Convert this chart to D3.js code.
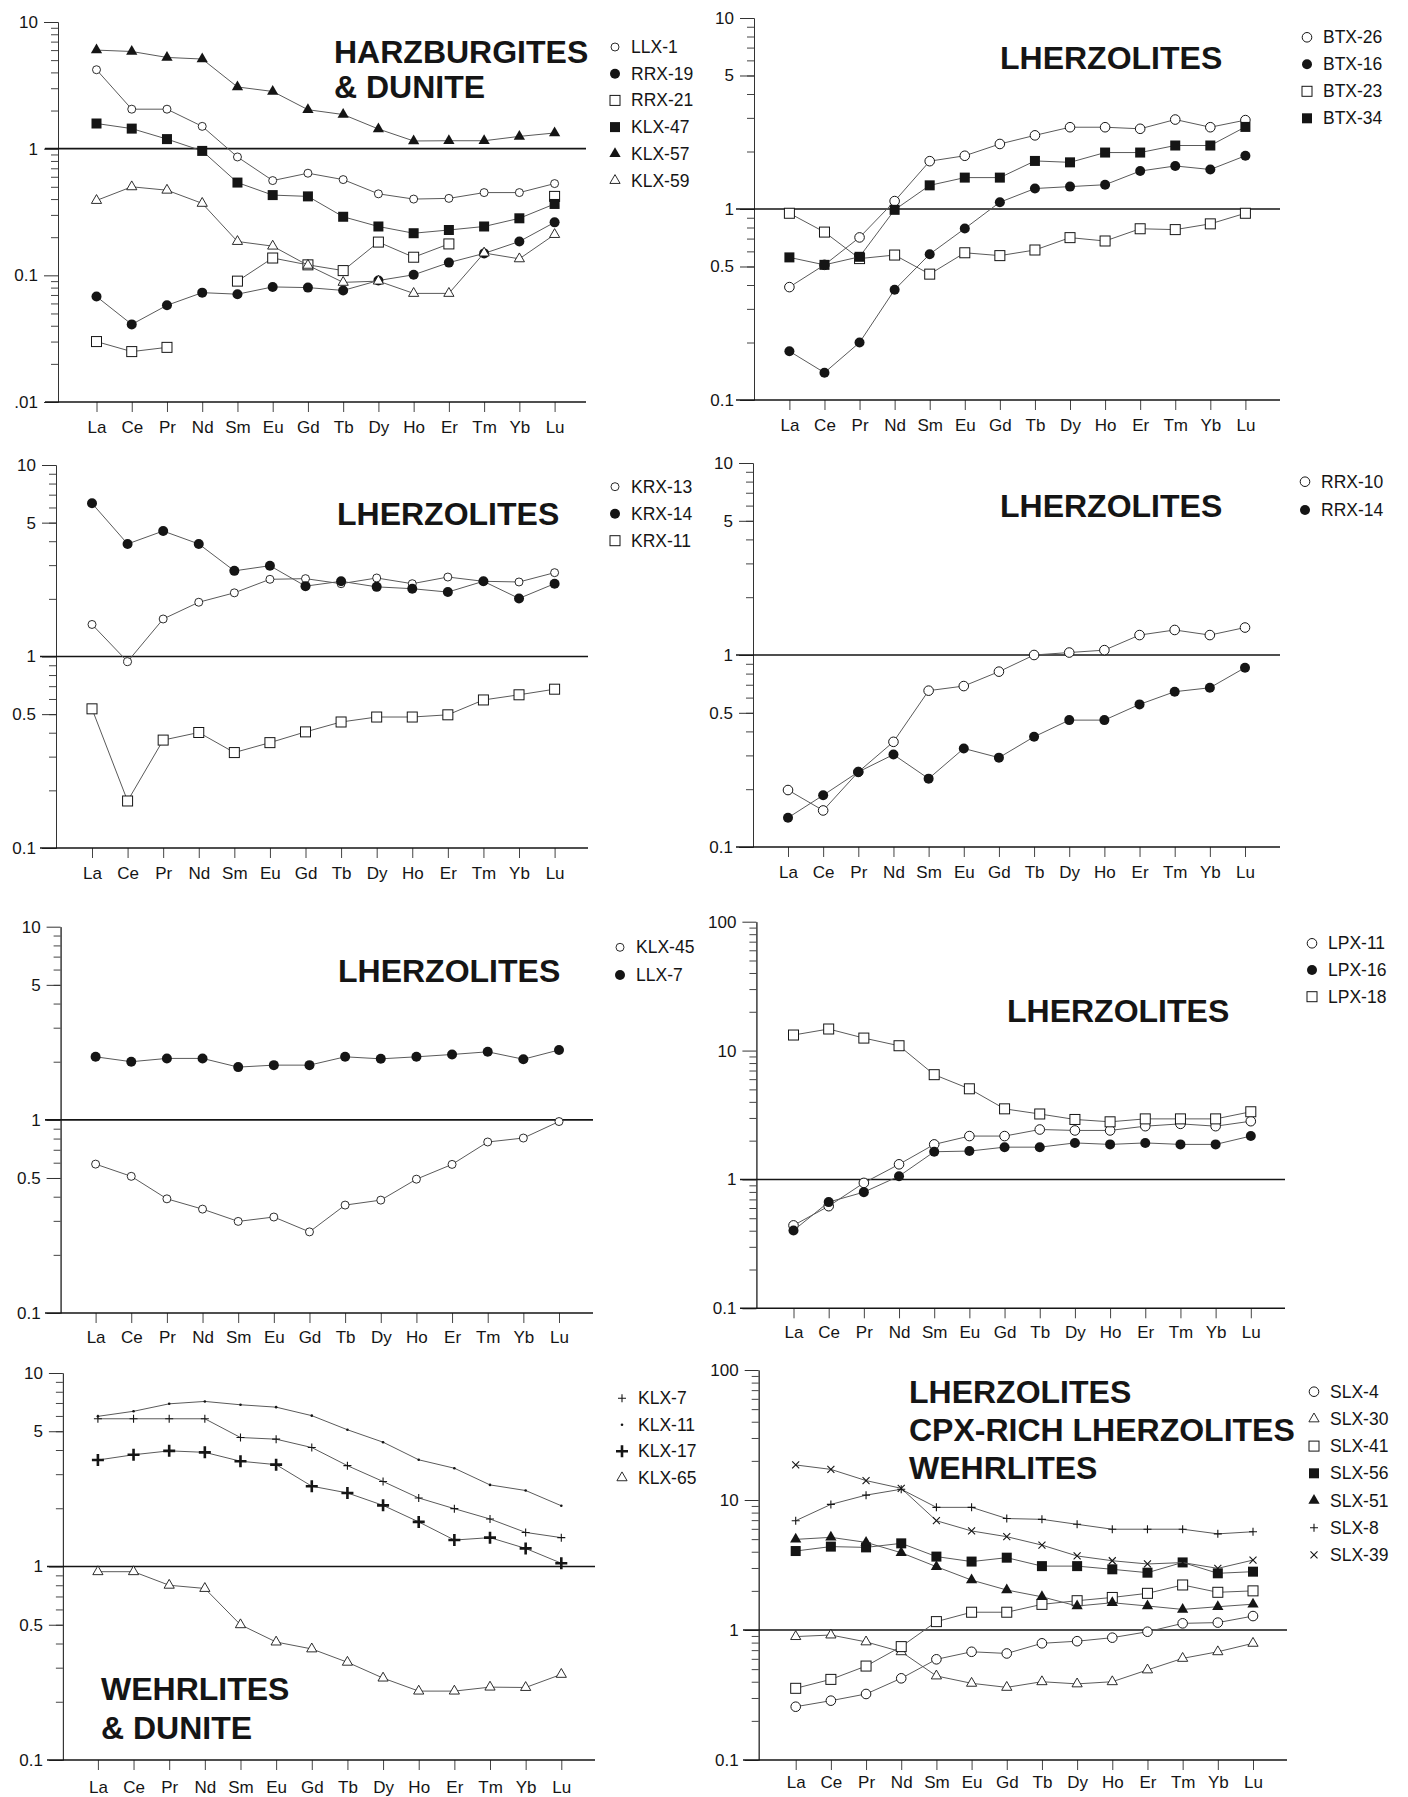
<!DOCTYPE html>
<html>
<head>
<meta charset="utf-8">
<script src="https://cdn.jsdelivr.net/npm/d3@7"></script>
<style>
body{margin:0;background:#fff}
svg{display:block;font-family:"Liberation Sans",Arial,sans-serif}
</style>
</head>
<body>
<div class="fig"></div>
<script>
// rare earth elements along the x axis
const ree = ["La","Ce","Pr","Nd","Sm","Eu","Gd","Tb","Dy","Ho","Er","Tm","Yb","Lu"]

// y tick labels
const ticksHarz = [10,1,0.1,0.01]
const ticksHarzText = ["10","1","0.1",".01"]
const ticksTen = [10,5,1,0.5,0.1]
const ticksTenText = ["10","5","1","0.5","0.1"]
const ticksHundred = [100,10,1,0.1]
const ticksHundredText = ["100","10","1","0.1"]

// harzburgites & dunite
const llx1  = [4.2,2.05,2.05,1.5,0.86,0.56,0.64,0.57,0.44,0.40,0.405,0.45,0.45,0.53]
const rrx19 = [0.068,0.041,0.058,0.073,0.071,0.081,0.080,0.076,0.091,0.101,0.126,0.149,0.185,0.262]
const rrx21 = [0.030,0.025,0.027,null,0.090,0.137,0.121,0.109,0.183,0.139,0.177,null,null,0.42]
const klx47 = [1.58,1.44,1.19,0.96,0.54,0.43,0.42,0.29,0.243,0.215,0.228,0.243,0.282,0.366]
const klx57 = [6.0,5.85,5.25,5.1,3.07,2.83,2.03,1.86,1.43,1.15,1.155,1.155,1.25,1.33]
const klx59 = [0.39,0.50,0.47,0.37,0.185,0.17,0.12,0.088,0.09,0.072,0.072,0.15,0.135,0.21]

// lherzolites BTX
const btx26 = [0.39,0.51,0.71,1.10,1.78,1.90,2.19,2.43,2.68,2.68,2.63,2.94,2.68,2.92]
const btx16 = [0.18,0.139,0.20,0.378,0.58,0.79,1.085,1.28,1.31,1.34,1.58,1.68,1.61,1.90]
const btx23 = [0.95,0.757,0.55,0.574,0.456,0.59,0.57,0.61,0.708,0.68,0.788,0.78,0.836,0.95]
const btx34 = [0.558,0.51,0.562,0.99,1.33,1.46,1.46,1.785,1.755,1.975,1.975,2.15,2.15,2.69]

// lherzolites KRX
const krx13 = [1.47,0.94,1.57,1.92,2.15,2.53,2.55,2.40,2.57,2.40,2.60,2.47,2.45,2.74]
const krx14 = [6.31,3.87,4.52,3.87,2.80,2.98,2.33,2.47,2.31,2.26,2.17,2.47,2.01,2.40]
const krx11 = [0.533,0.176,0.366,0.401,0.315,0.355,0.404,0.455,0.483,0.483,0.496,0.593,0.631,0.675]

// lherzolites RRX
const rrx10 = [0.198,0.155,0.246,0.353,0.652,0.689,0.819,1.0,1.03,1.06,1.27,1.35,1.27,1.39]
const rrx14 = [0.142,0.186,0.246,0.303,0.227,0.326,0.292,0.375,0.458,0.458,0.553,0.644,0.675,0.859]

// lherzolites KLX/LLX
const klx45 = [0.59,0.51,0.39,0.345,0.298,0.314,0.263,0.362,0.384,0.493,0.588,0.768,0.805,0.98]
const llx7  = [2.12,2.0,2.08,2.08,1.875,1.92,1.92,2.12,2.07,2.12,2.18,2.25,2.06,2.3]

// lherzolites LPX
const lpx11 = [0.44,0.62,0.94,1.31,1.87,2.17,2.17,2.44,2.40,2.40,2.59,2.70,2.59,2.83]
const lpx16 = [0.402,0.667,0.797,1.06,1.64,1.66,1.78,1.78,1.92,1.87,1.92,1.87,1.87,2.17]
const lpx18 = [13.2,14.7,12.5,10.9,6.5,5.05,3.53,3.22,2.92,2.80,2.95,2.95,2.95,3.35]

// wehrlites & dunite
const klx7  = [5.8,5.8,5.8,5.8,4.64,4.55,4.12,3.32,2.75,2.26,1.99,1.76,1.50,1.41]
const klx11 = [5.97,6.34,6.93,7.13,6.85,6.66,6.02,5.09,4.39,3.56,3.22,2.64,2.47,2.06]
const klx17 = [3.55,3.78,3.96,3.89,3.50,3.36,2.60,2.40,2.07,1.70,1.37,1.41,1.24,1.04]
const klx65 = [0.94,0.94,0.80,0.77,0.50,0.407,0.375,0.32,0.265,0.227,0.227,0.238,0.237,0.277]

// SLX lherzolites / cpx-rich lherzolites / wehrlites
const slx4  = [0.257,0.286,0.322,0.425,0.595,0.68,0.66,0.79,0.82,0.873,0.97,1.125,1.14,1.28]
const slx30 = [0.89,0.915,0.81,0.68,0.443,0.389,0.362,0.40,0.385,0.40,0.493,0.605,0.68,0.79]
const slx41 = [0.356,0.417,0.528,0.745,1.16,1.37,1.37,1.575,1.68,1.78,1.915,2.22,1.95,2.0]
const slx56 = [4.05,4.38,4.32,4.64,3.67,3.36,3.6,3.1,3.1,2.93,2.76,3.31,2.73,2.81]
const slx51 = [4.98,5.16,4.72,3.93,3.07,2.42,2.03,1.8,1.53,1.62,1.53,1.44,1.51,1.58]
const slx8  = [6.93,9.25,10.9,12.1,8.78,8.78,7.2,7.1,6.5,5.96,5.96,5.96,5.49,5.7]
const slx39 = [18.6,17.2,14.1,12.3,6.93,5.78,5.22,4.5,3.71,3.41,3.22,3.3,2.98,3.45]

const svg = d3.select(".fig").append("svg").attr("width",1408).attr("height",1797)
const ink = "#151515"

const panels = [
  {ax:58, top:22, bot:402, dom:[0.01,10], ticks:ticksHarz, tickText:ticksHarzText, x0:96.5, x1:554.6, lx0:45, lx1:586, labY:427,
   title:["HARZBURGITES","& DUNITE"], tx:334, ty:51, tdy:35, legX:615, legY:47, legDy:26.7,
   series:[["LLX-1",llx1,"circleOpenSmall"],["RRX-19",rrx19,"circleFilled"],["RRX-21",rrx21,"squareOpen"],
           ["KLX-47",klx47,"squareFilled"],["KLX-57",klx57,"triFilled"],["KLX-59",klx59,"triOpen"]]},
  {ax:754, top:18, bot:400, dom:[0.1,10], ticks:ticksTen, tickText:ticksTenText, x0:789.4, x1:1245.4, lx0:736, lx1:1280, labY:425,
   title:["LHERZOLITES"], tx:1000, ty:57, tdy:0, legX:1307, legY:37.3, legDy:27,
   series:[["BTX-26",btx26,"circleOpen"],["BTX-16",btx16,"circleFilled"],["BTX-23",btx23,"squareOpen"],["BTX-34",btx34,"squareFilled"]]},
  {ax:56, top:465, bot:848, dom:[0.1,10], ticks:ticksTen, tickText:ticksTenText, x0:92, x1:554.6, lx0:40, lx1:588, labY:873,
   title:["LHERZOLITES"], tx:337, ty:513, tdy:0, legX:615, legY:486.7, legDy:27,
   series:[["KRX-13",krx13,"circleOpenSmall"],["KRX-14",krx14,"circleFilled"],["KRX-11",krx11,"squareOpen"]]},
  {ax:753, top:463, bot:847, dom:[0.1,10], ticks:ticksTen, tickText:ticksTenText, x0:788, x1:1245, lx0:736, lx1:1280, labY:872,
   title:["LHERZOLITES"], tx:1000, ty:505, tdy:0, legX:1305, legY:481.7, legDy:28.3,
   series:[["RRX-10",rrx10,"circleOpen"],["RRX-14",rrx14,"circleFilled"]]},
  {ax:60.6, top:926.7, bot:1313, dom:[0.1,10], ticks:ticksTen, tickText:ticksTenText, x0:95.6, x1:559, lx0:45, lx1:593, labY:1337,
   title:["LHERZOLITES"], tx:338, ty:970, tdy:0, legX:620, legY:947.3, legDy:27.7,
   series:[["KLX-45",klx45,"circleOpenSmall"],["LLX-7",llx7,"circleFilled"]]},
  {ax:756.4, top:921.7, bot:1308.3, dom:[0.1,100], ticks:ticksHundred, tickText:ticksHundredText, x0:793.5, x1:1250.8, lx0:740, lx1:1285, labY:1332,
   title:["LHERZOLITES"], tx:1007, ty:1010, tdy:0, legX:1312, legY:943.3, legDy:26.7,
   series:[["LPX-11",lpx11,"circleOpen"],["LPX-16",lpx16,"circleFilled"],["LPX-18",lpx18,"squareOpen"]]},
  {ax:62.9, top:1373, bot:1760, dom:[0.1,10], ticks:ticksTen, tickText:ticksTenText, x0:97.9, x1:561.3, lx0:47, lx1:595, labY:1787,
   title:["WEHRLITES","& DUNITE"], tx:101, ty:1688, tdy:39, legX:622, legY:1398.3, legDy:26.5,
   series:[["KLX-7",klx7,"plus"],["KLX-11",klx11,"dot"],["KLX-17",klx17,"plusBold"],["KLX-65",klx65,"triOpen"]]},
  {ax:758.7, top:1370, bot:1760, dom:[0.1,100], ticks:ticksHundred, tickText:ticksHundredText, x0:795.7, x1:1253, lx0:743, lx1:1287, labY:1782,
   title:["LHERZOLITES","CPX-RICH LHERZOLITES","WEHRLITES"], tx:909, ty:1391, tdy:38, legX:1314, legY:1391.7, legDy:27.2,
   series:[["SLX-4",slx4,"circleOpen"],["SLX-30",slx30,"triOpen"],["SLX-41",slx41,"squareOpen"],["SLX-56",slx56,"squareFilled"],
           ["SLX-51",slx51,"triFilled"],["SLX-8",slx8,"plus"],["SLX-39",slx39,"cross"]]}
]

// one marker of a given kind at (cx,cy)
function marker(g, kind, cx, cy) {
  if (kind == "circleOpen") return g.append("circle").attr("cx",cx).attr("cy",cy).attr("r",4.8).attr("fill","#fff").attr("stroke",ink).attr("stroke-width",1)
  if (kind == "circleOpenSmall") return g.append("circle").attr("cx",cx).attr("cy",cy).attr("r",4).attr("fill","#fff").attr("stroke",ink).attr("stroke-width",0.9)
  if (kind == "circleFilled") return g.append("circle").attr("cx",cx).attr("cy",cy).attr("r",5).attr("fill",ink)
  if (kind == "squareOpen") return g.append("rect").attr("x",cx-5).attr("y",cy-5).attr("width",10).attr("height",10).attr("fill","#fff").attr("stroke",ink).attr("stroke-width",1)
  if (kind == "squareFilled") return g.append("rect").attr("x",cx-5).attr("y",cy-5).attr("width",10).attr("height",10).attr("fill",ink)
  if (kind == "triFilled") return g.append("path").attr("d",d3.symbol(d3.symbolTriangle,55)()).attr("transform",`translate(${cx},${cy})`).attr("fill",ink)
  if (kind == "triOpen") return g.append("path").attr("d",d3.symbol(d3.symbolTriangle,45)()).attr("transform",`translate(${cx},${cy})`).attr("fill","#fff").attr("stroke",ink).attr("stroke-width",0.9)
  if (kind == "plus") return g.append("path").attr("d","M-4,0H4M0,-4V4").attr("transform",`translate(${cx},${cy})`).attr("stroke",ink).attr("stroke-width",1.1)
  if (kind == "plusBold") return g.append("path").attr("d","M-6,0H6M0,-6V6").attr("transform",`translate(${cx},${cy})`).attr("stroke",ink).attr("stroke-width",2.6)
  if (kind == "cross") return g.append("path").attr("d","M-3.5,-3.5L3.5,3.5M-3.5,3.5L3.5,-3.5").attr("transform",`translate(${cx},${cy})`).attr("stroke",ink).attr("stroke-width",1.1)
  if (kind == "dot") return g.append("circle").attr("cx",cx).attr("cy",cy).attr("r",1.3).attr("fill",ink)
}

function drawPanel(p) {
  const g = svg.append("g")
  const x = d3.scalePoint().domain(ree).range([p.x0, p.x1])
  const y = d3.scaleLog().domain(p.dom).range([p.bot, p.top])

  // minor log ticks
  const minors = []
  const e0 = Math.round(Math.log10(p.dom[0])), e1 = Math.round(Math.log10(p.dom[1]))
  for (let e = e0; e < e1; e++) for (let k = 2; k < 10; k++) minors.push(k * Math.pow(10, e))

  g.append("g").attr("transform",`translate(${p.ax},0)`)
   .call(d3.axisLeft(y).tickValues(minors).tickSize(7).tickSizeOuter(0).tickFormat(""))
   .call(a => a.selectAll("line,path").attr("stroke","#444"))
  g.append("g").attr("transform",`translate(${p.ax},0)`)
   .call(d3.axisLeft(y).tickValues(p.ticks).tickSize(14).tickSizeOuter(0).tickPadding(6).tickFormat((d,i) => p.tickText[i]))
   .call(a => a.selectAll("line,path").attr("stroke","#333"))
   .call(a => a.selectAll("text").attr("font-size",17).attr("fill",ink).attr("font-family","Liberation Sans, Arial, sans-serif"))

  // category axis
  g.append("g").attr("transform",`translate(0,${p.bot})`)
   .call(d3.axisBottom(x).tickSize(10).tickPadding(p.labY - p.bot - 16))
   .call(a => a.select(".domain").remove())
   .call(a => a.selectAll("line").attr("stroke","#444"))
   .call(a => a.selectAll("text").attr("font-size",17).attr("fill",ink).attr("font-family","Liberation Sans, Arial, sans-serif"))

  // reference line at 1 and bottom line
  g.append("line").attr("x1",p.lx0).attr("x2",p.lx1).attr("y1",y(1)).attr("y2",y(1)).attr("stroke",ink).attr("stroke-width",1.6)
  g.append("line").attr("x1",p.lx0).attr("x2",p.lx1).attr("y1",p.bot).attr("y2",p.bot).attr("stroke",ink).attr("stroke-width",1.6)

  const line = d3.line().defined(d => d.v != null).x(d => x(d.c)).y(d => y(d.v))
  p.series.forEach(([name, vals, kind]) => {
    const pts = vals.map((v,i) => ({c:ree[i], v}))
    g.append("path").attr("d",line(pts)).attr("fill","none").attr("stroke","#5a5a5a").attr("stroke-width",1)
    pts.filter(d => d.v != null).forEach(d => marker(g, kind, x(d.c), y(d.v)))
  })

  // legend
  p.series.forEach(([name, vals, kind], i) => {
    const ly = p.legY + i * p.legDy
    marker(g, kind, p.legX, ly)
    g.append("text").attr("x",p.legX + 16).attr("y",ly + 6).text(name)
     .attr("font-size",17.5).attr("fill",ink)
  })

  // title
  p.title.forEach((t,i) => {
    g.append("text").attr("x",p.tx).attr("y",p.ty + i * p.tdy + 11.5).text(t)
     .attr("font-size",32).attr("font-weight","bold").attr("fill",ink)
  })
}

panels.forEach(drawPanel)
</script>
</body>
</html>
